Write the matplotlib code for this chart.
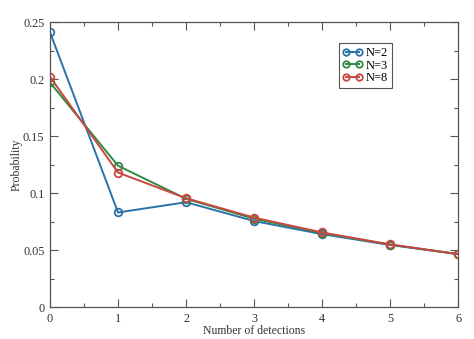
import numpy as np
import matplotlib.pyplot as plt
from matplotlib.ticker import MultipleLocator

# Detection probability vs. number of detections for several N
detections = [0, 1, 2, 3, 4, 5, 6]
p_n2 = [0.241, 0.083, 0.092, 0.0755, 0.064, 0.0545, 0.0465]
p_n3 = [0.197, 0.124, 0.095, 0.0775, 0.065, 0.0548, 0.0465]
p_n8 = [0.202, 0.118, 0.0955, 0.0785, 0.0655, 0.055, 0.0465]
labels = ['N=2', 'N=3', 'N=8']
colors = ['#2a72a8', '#2f8a43', '#c9473f']

plt.rcParams['font.family'] = ['Liberation Serif', 'DejaVu Serif']

fig = plt.figure(figsize=(4.74, 3.39), dpi=100)
ax = fig.add_axes([0.1055, 0.094, 0.861, 0.841])

for ys, lab, c in zip([p_n2, p_n3, p_n8], labels, colors):
    ax.plot(detections, ys, color=c, linewidth=1.4, marker='o', markersize=5.5,
            markerfacecolor='none', markeredgewidth=1.3, label=lab)

ax.set_xlim(0, 6)
ax.set_ylim(0, 0.25)
ax.xaxis.set_major_locator(MultipleLocator(1))
ax.xaxis.set_minor_locator(MultipleLocator(0.5))
ax.yaxis.set_major_locator(MultipleLocator(0.05))
ax.yaxis.set_minor_locator(MultipleLocator(0.025))
ax.set_yticks([0, 0.05, 0.1, 0.15, 0.2, 0.25])
ax.set_yticklabels(['0', '0.05', '0.1', '0.15', '0.2', '0.25'])

axis_col = '#555555'
ax.tick_params(which='both', direction='in', top=True, right=True,
               colors=axis_col, labelcolor='#333333', labelsize=8.8)
ax.tick_params(which='major', length=6, width=0.8, pad=4)
ax.tick_params(which='minor', length=3, width=0.8)
for s in ax.spines.values():
    s.set_color(axis_col)
    s.set_linewidth(0.9)

ax.set_xlabel('Number of detections', fontsize=8.5, color='#333333', labelpad=0)
ax.set_ylabel('Probability', fontsize=8.5, color='#333333', labelpad=0)

# legend handles show a marker at each end of the line
leg = ax.legend(loc='upper right', bbox_to_anchor=(0.838, 0.925), fontsize=9,
                fancybox=False, framealpha=1, edgecolor='#555555', numpoints=2,
                handlelength=1.6, handletextpad=0.3, labelspacing=0.05,
                borderpad=0.3, borderaxespad=0, markerscale=0.85)
leg.get_frame().set_linewidth(0.8)

fig.savefig('out.png', dpi=100)
